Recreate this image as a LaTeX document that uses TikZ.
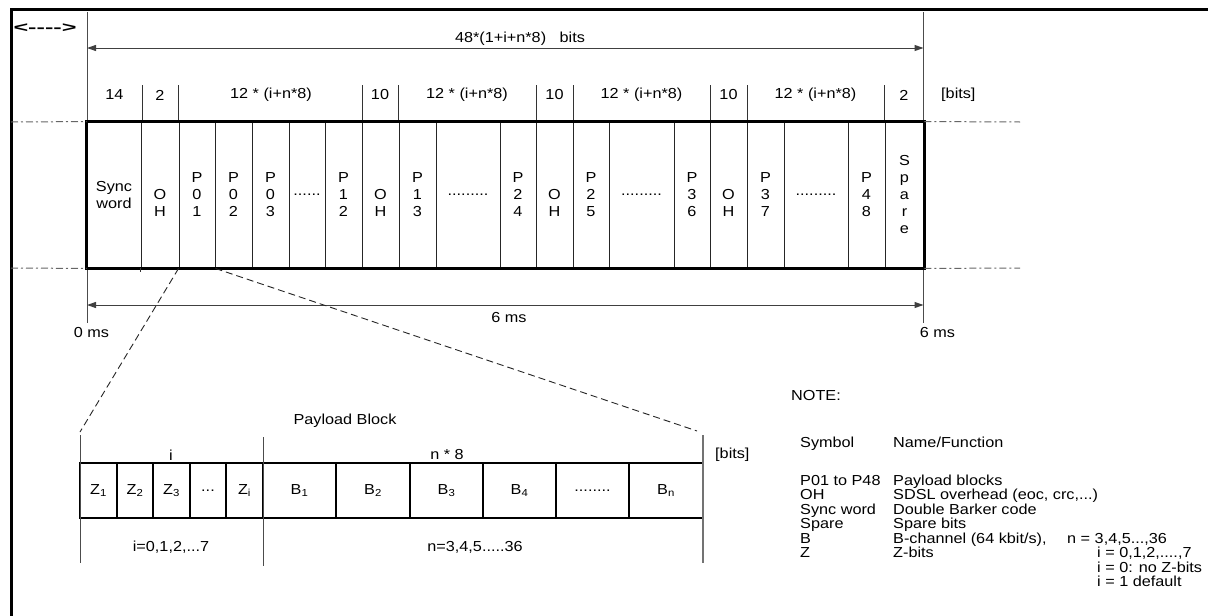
\documentclass[tikz,border=0pt]{standalone}
\usepackage{fontspec}
\setmainfont{Liberation Sans}[FakeStretch=1.12]
\usetikzlibrary{arrows.meta}
\newcommand\diagfont{\fontsize{14.5}{17}\selectfont}
\begin{document}
\begin{tikzpicture}[x=1pt,y=-1pt,
  every node/.style={font=\diagfont, inner sep=0pt},
  cell/.style={draw=black!85, line width=0.9pt, minimum height=146pt, inner sep=0pt, align=center},
  zcell/.style={draw=black, line width=1.5pt, minimum height=55pt, inner sep=0pt},
  dimline/.style={draw=black!70, line width=1pt},
  dimarrow/.style={draw=black!75, line width=1pt, {Triangle[length=9pt,width=6pt]}-{Triangle[length=9pt,width=6pt]}},
  sepline/.style={draw=black!80, line width=0.9pt},
  dashdot/.style={draw=black!60, line width=1pt, dash pattern=on 7pt off 3pt on 2pt off 3pt},
  zoomline/.style={draw=black!85, line width=0.9pt, dash pattern=on 7pt off 4pt},
  notetxt/.style={anchor=base west}
]
\useasboundingbox (0,0) rectangle (1208,616);
\clip (0,0) rectangle (1208,616);
\fill[white] (0,0) rectangle (1208,616);

% outer frame
\draw[line width=3pt] (11,9) rectangle (1230,640);

\node (legendarrow) at (45,28) {\scalebox{1.55}[1]{\bfseries <-{}-{}-{}->}};

% dimension verticals
\coordinate (vLt) at (87,12);
\coordinate (vLb) at (87,323);
\coordinate (vRt) at (923.5,12);
\coordinate (vRb) at (923.5,323);
\draw[dimline] (vLt) -- (vLb);
\draw[dimline] (vRt) -- (vRb);

% top arrow
\coordinate (ta1) at (87,48);
\coordinate (ta2) at (923.5,48);
\draw[dimarrow] (ta1) -- (ta2);
\node (totbits) at (520,39) {48*(1+i+n*8)\ \ \ bits};

% bits row
\foreach \x/\nm in {142/s1,178/s2,362/s3,398/s4,536/s5,573/s6,710/s7,747/s8,884/s9}{
  \coordinate (\nm t) at (\x,85);
  \coordinate (\nm b) at (\x,122);
  \draw[sepline] (\nm t) -- (\nm b);
}
\node (b1) at (114.5,95) {14};
\node (b2) at (160,95) {2};
\node (b3) at (271,95) {12 * (i+n*8)};
\node (b4) at (380,95) {10};
\node (b5) at (467,95) {12 * (i+n*8)};
\node (b6) at (554.5,95) {10};
\node (b7) at (641.5,95) {12 * (i+n*8)};
\node (b8) at (728.5,95) {10};
\node (b9) at (815.5,95) {12 * (i+n*8)};
\node (b10) at (904,95) {2};
\node[anchor=west] (bunit) at (941,95) {[bits]};

% frame cells
\node[cell, minimum width=54pt] (sync) at (114,195) {Sync\\word};
\node[cell, minimum width=38pt] (oh1) at (160,195) {\vphantom{P}\\O\\H};
\node[cell, minimum width=36pt] (p01) at (197,195) {P\\0\\1};
\node[cell, minimum width=37pt] (p02) at (233.5,195) {P\\0\\2};
\node[cell, minimum width=37pt] (p03) at (270.5,195) {P\\0\\3};
\node[cell, minimum width=36pt] (d1) at (307,195) {......};
\node[cell, minimum width=37pt] (p12) at (343.5,195) {P\\1\\2};
\node[cell, minimum width=37pt] (oh2) at (380.5,195) {\vphantom{P}\\O\\H};
\node[cell, minimum width=37pt] (p13) at (417.5,195) {P\\1\\3};
\node[cell, minimum width=64pt] (d2) at (468,195) {.........};
\node[cell, minimum width=36pt] (p24) at (518,195) {P\\2\\4};
\node[cell, minimum width=37pt] (oh3) at (554.5,195) {\vphantom{P}\\O\\H};
\node[cell, minimum width=36pt] (p25) at (591,195) {P\\2\\5};
\node[cell, minimum width=65pt] (d3) at (641.5,195) {.........};
\node[cell, minimum width=36pt] (p36) at (692,195) {P\\3\\6};
\node[cell, minimum width=37pt] (oh4) at (728.5,195) {\vphantom{P}\\O\\H};
\node[cell, minimum width=37pt] (p37) at (765.5,195) {P\\3\\7};
\node[cell, minimum width=64pt] (d4) at (816,195) {.........};
\node[cell, minimum width=37pt] (p48) at (866.5,195) {P\\4\\8};
\node[cell, minimum width=39pt] (spare) at (904.5,195) {S\\p\\a\\r\\e};
\draw[line width=3pt] (sync.north west) rectangle (spare.south east);
\draw[sepline] (oh1.south west) -- ++(0,4);

% dash-dot guide lines
\coordinate (gl1) at (11,122);
\coordinate (gl2) at (11,268);
\coordinate (gr1) at (1020,122);
\coordinate (gr2) at (1020,268);
\draw[dashdot] (gl1) -- (sync.north west);
\draw[dashdot] (gl2) -- (sync.south west);
\draw[dashdot] (spare.north east) -- (gr1);
\draw[dashdot] (spare.south east) -- (gr2);

% bottom arrow
\coordinate (ba1) at (87,305);
\coordinate (ba2) at (923.5,305);
\draw[dimarrow] (ba1) -- (ba2);
\node (t0) at (91.5,333) {0 ms};
\node (tmid) at (509,318) {6 ms};
\node (t6) at (937.5,333) {6 ms};

% payload block
\node (pbtitle) at (345,421) {Payload Block};
\node[zcell, minimum width=37pt] (z1) at (98.5,490.5) {Z\textsubscript{1}};
\node[zcell, minimum width=36pt] (z2) at (135,490.5) {Z\textsubscript{2}};
\node[zcell, minimum width=37pt] (z3) at (171.5,490.5) {Z\textsubscript{3}};
\node[zcell, minimum width=36pt] (zd) at (208,490.5) {...};
\node[zcell, minimum width=37pt] (zi) at (244.5,490.5) {Z\textsubscript{i}};
\node[zcell, minimum width=73pt] (bb1) at (299.5,490.5) {B\textsubscript{1}};
\node[zcell, minimum width=74pt] (bb2) at (373,490.5) {B\textsubscript{2}};
\node[zcell, minimum width=73pt] (bb3) at (446.5,490.5) {B\textsubscript{3}};
\node[zcell, minimum width=73pt] (bb4) at (519.5,490.5) {B\textsubscript{4}};
\node[zcell, minimum width=73pt] (bbd) at (592.5,490.5) {........};
\node[zcell, minimum width=74pt] (bbn) at (666,490.5) {B\textsubscript{n}};

\coordinate (pl1) at (80,435);
\coordinate (pl2) at (80,563);
\coordinate (pm1) at (263,437);
\coordinate (pm2) at (263,566);
\coordinate (pr1) at (703,435);
\coordinate (pr2) at (703,563);
\draw[dimline] (pl1) -- (pl2);
\draw[dimline] (pm1) -- (pm2);
\draw[draw=black!55, line width=1.6pt] (pr1) -- (pr2);

\node (ilab) at (171,455) {i};
\node (nlab) at (447,455) {n * 8};
\node[anchor=west] (punit) at (715,455) {[bits]};
\node (irange) at (171,547) {i=0,1,2,...7};
\node (nrange) at (475,547) {n=3,4,5.....36};

% zoom lines
\coordinate (zl) at (80,432);
\coordinate (zr) at (697,431);
\draw[zoomline] (p01.south west) -- (zl);
\draw[zoomline] (p01.south east) -- (zr);

% note
\node[notetxt] (note) at (791,400) {NOTE:};
\node[notetxt] (hsym) at (800,447) {Symbol};
\node[notetxt] (hname) at (893,447) {Name/Function};
\node[notetxt] (s1) at (800,485) {P01 to P48};
\node[notetxt] (f1) at (893,485) {Payload blocks};
\node[notetxt] (s2) at (800,499.5) {OH};
\node[notetxt] (f2) at (893,499.5) {SDSL overhead (eoc, crc,...)};
\node[notetxt] (s3) at (800,514) {Sync word};
\node[notetxt] (f3) at (893,514) {Double Barker code};
\node[notetxt] (s4) at (800,528.5) {Spare};
\node[notetxt] (f4) at (893,528.5) {Spare bits};
\node[notetxt] (s5) at (800,543) {B};
\node[notetxt] (f5) at (893,543) {B-channel (64 kbit/s),};
\node[notetxt] (f5b) at (1067,543) {n = 3,4,5...,36};
\node[notetxt] (s6) at (800,557.5) {Z};
\node[notetxt] (f6) at (893,557.5) {Z-bits};
\node[notetxt] (f6b) at (1097,557.5) {i = 0,1,2,....,7};
\node[notetxt] (f7) at (1097,572) {i = 0: no Z-bits};
\node[notetxt] (f8) at (1097,586.5) {i = 1 default};
\end{tikzpicture}
\end{document}
